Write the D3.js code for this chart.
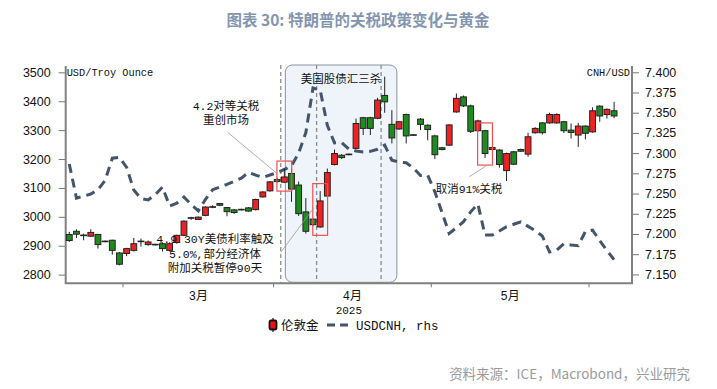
<!DOCTYPE html>
<html>
<head>
<meta charset="utf-8">
<script src="https://cdn.jsdelivr.net/npm/d3@7"></script>
<style>
body { margin: 0; background: #fff; }
svg { display: block; }
.note { font-family: "Liberation Mono", "Noto Sans CJK SC", monospace; font-size: 11.5px; fill: #111; }
.tick text { font-family: "Liberation Sans Narrow", "Liberation Sans", Arial, sans-serif; font-size: 12.5px; fill: #111; }
</style>
</head>
<body>
<svg id="chart" width="717" height="389"></svg>
<script>
// trading days shown on the axis (weekdays, Feb 19 - Jun 9 2025)
var parse = d3.timeParse("%Y-%m-%d"), fmt = d3.timeFormat("%Y-%m-%d");
var days = d3.timeDay.range(parse("2025-02-19"), parse("2025-06-10"))
    .filter(function(d){ return d.getDay() != 0 && d.getDay() != 6; })
    .map(fmt);

// 伦敦金 OHLC, USD/Troy Ounce
var goldOpen = [2939,2950,2937,2933,2939,2916,2919,2875,2873,2884,
  2915,2904,2905,2907,2884,2911,2936,2995,2991,3005,
  3034,3046,3032,3024,3026,3031,3025,3069,3090,3129,
  3120,3150,3110,3017,2992,2965,3072,3181,3213,3215,
  3237,3343,3343,3341,3420,3320,3304,3354,3284,3338,
  3317,3280,3239,3248,3363,3415,3384,3298,3298,3233,
  3231,3160,3225,3233,3217,3291,3325,3325,3325,3329,
  3300,3283,3314,3294,3383,3354,3367];
var goldHigh = [2948,2957,2942,2957,2941,2918,2921,2878,2893,2927,
  2925,2918,2907,2912,2912,2938,2988,3000,3001,3036,
  3040,3048,3034,3027,3028,3034,3063,3089,3124,3135,
  3167,3167,3122,3065,2995,3089,3167,3233,3217,3219,
  3340,3346,3346,3412,3485,3369,3332,3357,3286,3342,
  3320,3284,3242,3321,3427,3420,3388,3336,3301,3242,
  3234,3222,3228,3236,3291,3310,3328,3360,3358,3332,
  3323,3325,3317,3379,3386,3375,3398];
var goldLow = [2913,2927,2919,2931,2890,2912,2869,2832,2864,2880,
  2897,2900,2901,2880,2880,2907,2933,2990,2989,3002,
  3030,3037,3002,3010,3022,3018,3022,3066,3087,3118,
  3118,3052,3003,2942,2968,2962,3069,3178,3200,3213,
  3234,3283,3283,3338,3360,3254,3301,3254,3281,3300,
  3265,3200,3230,3245,3360,3380,3290,3295,3204,3230,
  3170,3124,3180,3225,3208,3288,3285,3322,3322,3290,
  3271,3242,3268,3291,3329,3340,3341];
var goldClose = [2918,2940,2935,2946,2904,2914,2884,2836,2890,2907,
  2916,2913,2904,2890,2907,2936,2985,2997,2999,3034,
  3035,3040,3018,3015,3025,3020,3060,3086,3121,3122,
  3138,3096,3011,2950,2973,3055,3153,3219,3205,3217,
  3323,3306,3306,3404,3398,3273,3329,3280,3283,3320,
  3302,3215,3233,3318,3410,3384,3296,3332,3219,3240,
  3181,3219,3182,3227,3277,3306,3291,3354,3354,3298,
  3292,3314,3289,3367,3349,3372,3349];

// USDCNH, rhs
var usdcnh = [7.2865,7.2444,7.2467,7.2494,7.2547,7.2663,7.2937,7.2949,7.2824,7.2543,
  7.2438,7.2422,7.2486,7.2580,7.2345,7.2382,7.2457,7.2365,7.2286,7.2428,
  7.2548,7.2580,7.2614,7.2651,7.2691,7.2760,7.2729,7.2699,7.2729,7.2760,
  7.2798,7.2843,7.3001,7.3254,7.3806,7.3781,7.3343,7.3126,7.3131,7.3051,
  7.3026,7.3014,7.3022,7.3048,7.3100,7.2912,7.2890,7.2881,7.2816,7.2723,
  7.2726,7.2521,7.2264,7.2007,7.2077,7.2152,7.2274,7.2370,7.1986,7.1986,
  7.2037,7.2090,7.2120,7.2150,7.2094,7.2043,7.1973,7.1776,7.1800,7.1879,
  7.1863,7.1856,7.2031,7.2048,7.1916,7.1795,7.1682];

var leftTicks = [2800,2900,3000,3100,3200,3300,3400,3500];
var rightTicks = [7.150,7.175,7.200,7.225,7.250,7.275,7.300,7.325,7.350,7.375,7.400];
var months = [{label:"3月", start:"2025-03-03", end:"2025-04-01"},
              {label:"4月", start:"2025-04-01", end:"2025-05-01"},
              {label:"5月", start:"2025-05-01", end:"2025-06-02"}];
var monthTicks = ["2025-03-03","2025-04-01","2025-05-01","2025-06-02"];
var eventDays = ["2025-04-02","2025-04-09","2025-04-22"];

var L = 65.7, R = 632, T = 68, B = 283.3;
var cnhBlue = "#44546a";

var svg = d3.select("#chart");

var x = d3.scaleBand().domain(days).range([L, R]).padding(0);
var xc = function(d){ return x(d) + x.bandwidth() / 2; };
var yL = d3.scaleLinear().domain([2770, 3515]).range([B, T]);
var yR = d3.scaleLinear().domain([7.139, 7.4053]).range([B, T]);

// title
svg.append("text")
    .attr("x", 358).attr("y", 26)
    .attr("text-anchor", "middle")
    .style("font-family", '"Noto Sans CJK SC", sans-serif')
    .style("font-weight", "bold")
    .style("font-size", "15.5px")
    .style("fill", "#8396b1")
    .text("图表 30: 特朗普的关税政策变化与黄金");

// shaded period 美国股债汇三杀
var shadeX0 = xc(days[30]) + 1, shadeX1 = xc(days[45]) + 5;
svg.append("rect")
    .attr("x", shadeX0).attr("y", 65)
    .attr("width", shadeX1 - shadeX0).attr("height", B - 1 - 65)
    .attr("rx", 7)
    .style("fill", "#eef4f9")
    .style("stroke", "#8a939c")
    .style("stroke-width", 1);

// event lines
svg.selectAll("line.event").data(eventDays).enter()
    .append("line")
    .attr("class", "event")
    .attr("x1", function(d){ return x(d); })
    .attr("x2", function(d){ return x(d); })
    .attr("y1", 65).attr("y2", B)
    .style("stroke", "#8c8c8c")
    .style("stroke-width", 1.3)
    .style("stroke-dasharray", "4,3");

// axes
var axL = svg.append("g").attr("transform", "translate(" + L + ",0)")
    .call(d3.axisLeft(yL).tickValues(leftTicks).tickSize(7).tickPadding(8).tickSizeOuter(0)
        .tickFormat(d3.format("d")));
var axR = svg.append("g").attr("transform", "translate(" + R + ",0)")
    .call(d3.axisRight(yR).tickValues(rightTicks).tickSize(7).tickPadding(6).tickSizeOuter(0)
        .tickFormat(d3.format(".3f")));
[axL, axR].forEach(function(a){
    a.select(".domain").remove();
    a.selectAll(".tick line").style("stroke", "#777");
});

var axB = svg.append("g").attr("transform", "translate(0," + B + ")");
axB.selectAll("line").data(monthTicks).enter().append("line")
    .attr("x1", function(d){ return x(d); })
    .attr("x2", function(d){ return x(d); })
    .attr("y1", 0).attr("y2", 4)
    .style("stroke", "#777");
axB.selectAll("text").data(months).enter().append("text")
    .attr("x", function(d){ return (x(d.start) + x(d.end)) / 2; })
    .attr("y", 17)
    .attr("text-anchor", "middle")
    .attr("class", "note")
    .style("font-size", "12px")
    .text(function(d){ return d.label; });
axB.append("text")
    .attr("x", (L + R) / 2).attr("y", 31)
    .attr("text-anchor", "middle")
    .attr("class", "note")
    .style("font-size", "11px")
    .text("2025");

// frame lines
svg.append("path")
    .attr("d", "M" + L + "," + 66 + "V" + B + "H" + R + "V" + 66)
    .style("fill", "none")
    .style("stroke", "#808080")
    .style("stroke-width", 2);

// units
svg.append("text").attr("class", "note").attr("x", L + 1).attr("y", 76)
    .style("font-size", "10.3px").text("USD/Troy Ounce");
svg.append("text").attr("class", "note").attr("x", R - 2).attr("y", 76)
    .attr("text-anchor", "end")
    .style("font-size", "10.3px").text("CNH/USD");

// USDCNH dashed line
var line = d3.line()
    .x(function(d, i){ return xc(days[i]); })
    .y(function(d){ return yR(d); });
svg.append("path")
    .datum(usdcnh)
    .attr("d", line)
    .style("fill", "none")
    .style("stroke", cnhBlue)
    .style("stroke-width", 3)
    .style("stroke-dasharray", "9,6");

// candles
var idx = d3.range(goldClose.length);
var candles = svg.append("g").selectAll("g").data(idx).enter().append("g");
candles.append("line")
    .attr("x1", function(i){ return xc(days[i]); })
    .attr("x2", function(i){ return xc(days[i]); })
    .attr("y1", function(i){ return yL(goldHigh[i]); })
    .attr("y2", function(i){ return yL(goldLow[i]); })
    .style("stroke", "#222")
    .style("stroke-width", 1);
candles.append("rect")
    .attr("x", function(i){ return xc(days[i]) - 2.9; })
    .attr("width", 5.8)
    .attr("y", function(i){ return yL(Math.max(goldOpen[i], goldClose[i])); })
    .attr("height", function(i){ return Math.max(0.6, Math.abs(yL(goldOpen[i]) - yL(goldClose[i]))); })
    .style("fill", function(i){ return goldClose[i] >= goldOpen[i] ? "#ee2222" : "#1f8a1f"; })
    .style("stroke", "#222")
    .style("stroke-width", 1);

// red boxes
var boxes = [{day: "2025-04-02", lo: 3089, hi: 3193},
             {day: "2025-04-09", lo: 2936, hi: 3115},
             {day: "2025-05-12", lo: 3179, hi: 3325}];
svg.selectAll("rect.box").data(boxes).enter().append("rect")
    .attr("class", "box")
    .attr("x", function(d){ return xc(d.day) - 7.4; })
    .attr("width", 14.8)
    .attr("y", function(d){ return yL(d.hi); })
    .attr("height", function(d){ return yL(d.lo) - yL(d.hi); })
    .style("fill", "none")
    .style("stroke", "#f05050")
    .style("stroke-width", 1.2);

// leader lines
var leaders = [[227.7, 132.3, 277, 173.5], [281, 252, 313.3, 208.5], [469.3, 176.7, 486, 166]];
svg.selectAll("line.leader").data(leaders).enter().append("line")
    .attr("x1", function(d){ return d[0]; }).attr("y1", function(d){ return d[1]; })
    .attr("x2", function(d){ return d[2]; }).attr("y2", function(d){ return d[3]; })
    .style("stroke", "#999")
    .style("stroke-width", 0.8);

// annotations
var notes = [
    {x: 226, y: 109.5, t: "4.2对等关税"},
    {x: 226, y: 124, t: "重创市场"},
    {x: 215, y: 242.5, t: "4.9 30Y美债利率触及"},
    {x: 215, y: 257.5, t: "5.0%,部分经济体"},
    {x: 215, y: 271.5, t: "附加关税暂停90天"},
    {x: 341, y: 82.5, t: "美国股债汇三杀"},
    {x: 469, y: 192.5, t: "取消91%关税"}
];
svg.selectAll("text.ann").data(notes).enter().append("text")
    .attr("class", "note ann")
    .attr("x", function(d){ return d.x; })
    .attr("y", function(d){ return d.y; })
    .attr("text-anchor", "middle")
    .text(function(d){ return d.t; });

// legend
var lg = svg.append("g").attr("transform", "translate(0,325)");
lg.append("line").attr("x1", 273).attr("x2", 273).attr("y1", -7).attr("y2", 7)
    .style("stroke", "#111").style("stroke-width", 1.2);
lg.append("rect").attr("x", 269.5).attr("y", -4.5).attr("width", 7).attr("height", 9).attr("rx", 1.5)
    .style("fill", "#ee1111").style("stroke", "#111").style("stroke-width", 1.8);
lg.append("text").attr("class", "note").attr("x", 281).attr("y", 4.5)
    .style("font-size", "12.5px").text("伦敦金");
lg.append("line").attr("x1", 327).attr("x2", 353).attr("y1", 0).attr("y2", 0)
    .style("stroke", cnhBlue).style("stroke-width", 3).style("stroke-dasharray", "8,5");
lg.append("text").attr("class", "note").attr("x", 356).attr("y", 4.5)
    .style("font-size", "12.5px").text("USDCNH, rhs");

// source
svg.append("text")
    .attr("x", 690).attr("y", 379)
    .attr("text-anchor", "end")
    .style("font-family", '"Noto Sans CJK SC", sans-serif')
    .style("font-size", "13.5px")
    .style("fill", "#9a9a9a")
    .text("资料来源：ICE，Macrobond，兴业研究");
</script>
</body>
</html>
